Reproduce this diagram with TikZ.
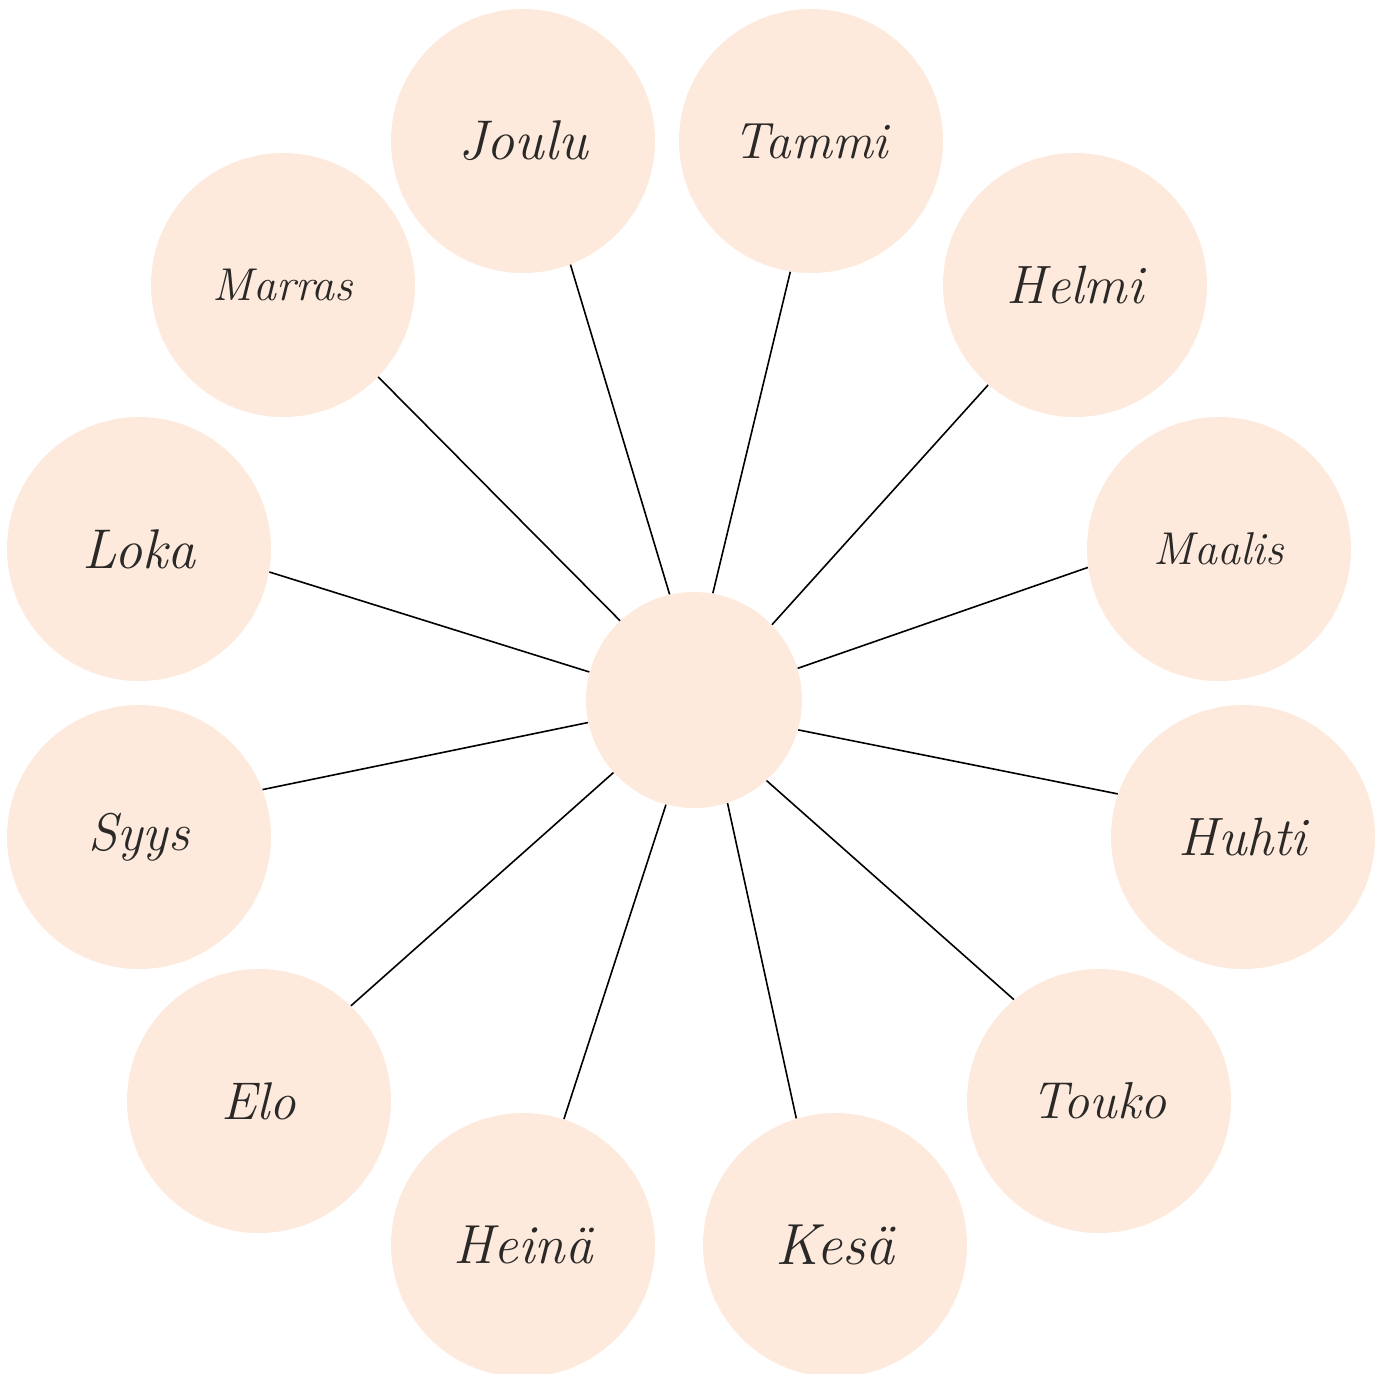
\documentclass[tikz,border=0pt]{standalone}
\definecolor{petal}{HTML}{FDEADC}
\definecolor{ink}{HTML}{2B2928}
\tikzset{
  petalnode/.style={circle, fill=petal, minimum size=132pt, inner sep=0pt,
    text=ink, font=\fontsize{#1}{#1}\selectfont\itshape},
  petalnode/.default=28,
  hub/.style={circle, fill=petal, minimum size=108pt, inner sep=0pt},
  spoke/.style={draw=black, line width=0.8pt}
}
\begin{document}
\begin{tikzpicture}[x=0.5pt,y=-0.5pt]
\useasboundingbox (0,0) rectangle (1385,1373);
\node[hub] (c) at (694,700) {};
\node[petalnode=28] (joulu) at (523,141) {Joulu};
\node[petalnode=25.5] (tammi) at (811,141) {Tammi};
\node[petalnode=27] (helmi) at (1075,285) {Helmi};
\node[petalnode=23] (maalis) at (1219,549) {Maalis};
\node[petalnode=27] (huhti) at (1243,837) {Huhti};
\node[petalnode=26] (touko) at (1099,1101) {Touko};
\node[petalnode=29] (kesa) at (835,1245) {Kesä};
\node[petalnode=27.5] (heina) at (523,1245) {Heinä};
\node[petalnode=26.5] (elo) at (259,1101) {Elo};
\node[petalnode=26.5] (syys) at (139,837) {Syys};
\node[petalnode=28] (loka) at (139,549) {Loka};
\node[petalnode=23] (marras) at (283,285) {Marras};
\foreach \n/\a/\b in {joulu/103.4/-69.6, tammi/80.5/-99.5, helmi/44.3/-131.9,
    maalis/17.3/-172.2, huhti/-16.1/161.8, touko/-48.0/130.4, kesa/-72.7/107.7,
    heina/-105.6/72.7, elo/-138.4/46.8, syys/-168.8/21.3, loka/165.6/-10.0,
    marras/133.5/-44.7}
  \draw[spoke] (c.\a) -- (\n.\b);
\end{tikzpicture}
\end{document}
